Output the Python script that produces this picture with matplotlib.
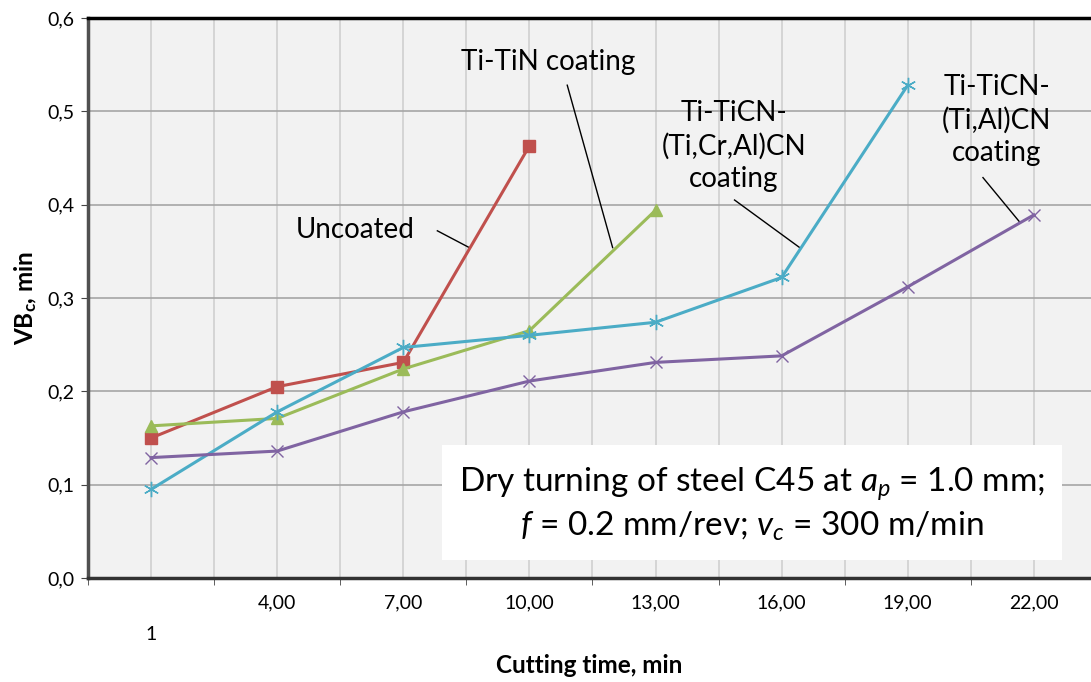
import matplotlib
matplotlib.use("Agg")
import matplotlib.pyplot as plt
from matplotlib.ticker import FixedLocator, FuncFormatter

plt.rcParams['font.family'] = ['Lato', 'DejaVu Sans']
plt.rcParams['mathtext.fontset'] = 'custom'
plt.rcParams['mathtext.rm'] = 'Lato'
plt.rcParams['mathtext.it'] = 'Lato:italic'
plt.rcParams['mathtext.bf'] = 'Lato:bold'

# data
cutting_time = [1, 4, 7, 10, 13, 16, 19, 22]
xtick_labels = ['\n1', '4,00', '7,00', '10,00', '13,00', '16,00', '19,00', '22,00']

uncoated = [0.150, 0.205, 0.231, 0.463]
ti_tin = [0.163, 0.171, 0.224, 0.265, 0.394]
ti_ticn_ticralcn = [0.095, 0.178, 0.247, 0.260, 0.274, 0.322, 0.528]
ti_ticn_tialcn = [0.129, 0.136, 0.178, 0.211, 0.231, 0.238, 0.312, 0.389]

fig = plt.figure(figsize=(10.91, 6.82), dpi=100)
ax = fig.add_axes([0.0807, 0.1525, 0.9193, 0.8211])
ax.set_facecolor('#F2F2F2')

ax.plot(cutting_time[:len(uncoated)], uncoated, color='#C0504D', lw=2.2,
        marker='s', ms=9, zorder=5)
ax.plot(cutting_time[:len(ti_tin)], ti_tin, color='#9BBB59', lw=2.2,
        marker='^', ms=9, zorder=5)
ax.plot(cutting_time[:len(ti_ticn_ticralcn)], ti_ticn_ticralcn, color='#4BACC6', lw=2.2,
        marker=(6, 2, 0), ms=11, mew=1.0, zorder=5)
ax.plot(cutting_time[:len(ti_ticn_tialcn)], ti_ticn_tialcn, color='#8064A2', lw=2.2,
        marker='x', ms=9, mew=1.0, zorder=5)

ax.set_xlim(-0.5, 23.36)
ax.set_ylim(0, 0.6)

ax.set_xticks(cutting_time)
ax.set_xticklabels(xtick_labels, fontsize=14)
ax.get_xticklabels()[0].set_linespacing(2.0)
ax.xaxis.set_minor_locator(FixedLocator([-0.5 + 3 * i for i in range(9)]))
ax.tick_params(axis='x', which='major', length=0, pad=12)
ax.tick_params(axis='x', which='minor', length=5, color='#444444')
ax.set_yticks([0, 0.1, 0.2, 0.3, 0.4, 0.5, 0.6])
ax.yaxis.set_major_formatter(FuncFormatter(lambda v, p: f"{v:.1f}".replace('.', ',')))
ax.tick_params(axis='y', length=5, color='#444444', labelsize=14, pad=5)

ax.grid(axis='y', color='#A6A6A6', lw=1.2, zorder=0)
ax.grid(axis='x', which='both', color='#D0D0D0', lw=1.2, zorder=0)
ax.set_axisbelow(True)

ax.spines['top'].set_color('black')
ax.spines['top'].set_linewidth(2.5)
ax.spines['left'].set_color('#505050')
ax.spines['left'].set_linewidth(2.5)
ax.spines['bottom'].set_color('#333333')
ax.spines['bottom'].set_linewidth(2.5)
ax.spines['right'].set_visible(False)

ax.set_xlabel('Cutting time, min', fontsize=17.5, fontweight='bold', labelpad=8)
ax.set_ylabel(r'VB$_\mathbf{c}$, min', fontsize=17.5, fontweight='bold', labelpad=6)

# annotations
ann_fs = 20
ax.text(5.86, 0.373, 'Uncoated', fontsize=ann_fs, ha='center', va='center')
ax.plot([7.81, 8.57], [0.372, 0.354], color='black', lw=1)
ax.text(10.45, 0.553, 'Ti-TiN coating', fontsize=ann_fs, ha='center', va='center')
ax.plot([10.90, 11.98], [0.528, 0.354], color='black', lw=1)
ax.text(14.86, 0.463, 'Ti-TiCN-\n(Ti,Cr,Al)CN\ncoating', fontsize=ann_fs,
        ha='center', va='center', linespacing=1.3)
ax.plot([14.88, 16.43], [0.405, 0.354], color='black', lw=1)
ax.text(21.12, 0.491, 'Ti-TiCN-\n(Ti,Al)CN\ncoating', fontsize=ann_fs,
        ha='center', va='center', linespacing=1.3)
ax.plot([20.79, 21.67], [0.429, 0.381], color='black', lw=1)

ax.text(15.3, 0.079,
        'Dry turning of steel C45 at $a_p$ = 1.0 mm;\n$f$ = 0.2 mm/rev; $v_c$ = 300 m/min',
        fontsize=24, ha='center', va='center', linespacing=1.3, zorder=6,
        bbox=dict(boxstyle='square,pad=0.5', facecolor='white', edgecolor='none'))

fig.savefig('out.png', dpi=100)
